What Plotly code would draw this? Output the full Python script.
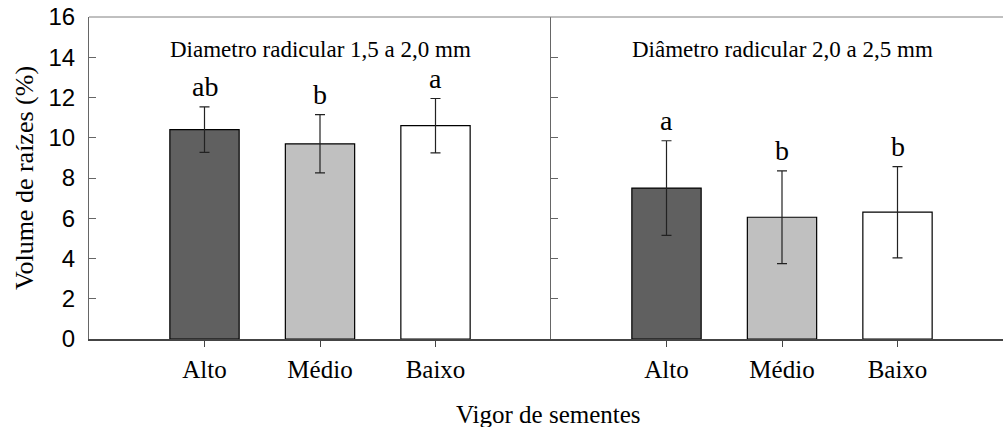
import plotly.graph_objects as go

categories = ["Alto", "Médio", "Baixo"]
vol_15_20 = [10.4, 9.7, 10.6]
err_15_20 = [1.13, 1.45, 1.35]
letters_15_20 = ["ab", "b", "a"]
vol_20_25 = [7.5, 6.05, 6.3]
err_20_25 = [2.35, 2.3, 2.27]
letters_20_25 = ["a", "b", "b"]
bar_colors = ["#606060", "#c0c0c0", "#ffffff"]
panel_titles = ["Diametro radicular 1,5 a 2,0 mm", "Diâmetro radicular 2,0 a 2,5 mm"]
y_ticks = [0, 2, 4, 6, 8, 10, 12, 14, 16]

SERIF = "Liberation Serif"
SANS = "Liberation Sans"

fig = go.Figure()
panels = [(vol_15_20, err_15_20, letters_15_20, "x", "y"),
          (vol_20_25, err_20_25, letters_20_25, "x2", "y2")]
for (vals, errs, lets, xa, ya) in panels:
    fig.add_trace(go.Bar(
        x=categories, y=vals, width=0.6,
        marker=dict(color=bar_colors, line=dict(color="black", width=1.2)),
        error_y=dict(type="data", array=errs, visible=True, color="#222222",
                     thickness=1.2, width=5),
        xaxis=xa, yaxis=ya, showlegend=False, hoverinfo="skip"))

annotations = []
for (vals, errs, lets, xa, ya), title in zip(panels, panel_titles):
    for c, v, e, t in zip(categories, vals, errs, lets):
        annotations.append(dict(x=c, y=v + e, xref=xa, yref=ya, text=t,
                                showarrow=False, yanchor="bottom", yshift=3,
                                font=dict(family=SERIF, size=28, color="black")))
    annotations.append(dict(x=categories[1], y=14.4, xref=xa, yref=ya, text=title,
                            showarrow=False, yanchor="middle",
                            font=dict(family=SERIF, size=23, color="black")))

annotations.append(dict(x=548 / 1003, y=1 - 414 / 427, xref="paper", yref="paper",
                        xanchor="center", yanchor="middle", showarrow=False,
                        text="Vigor de sementes",
                        font=dict(family=SERIF, size=25, color="black")))
annotations.append(dict(x=24 / 1003, y=1 - 178 / 427, xref="paper", yref="paper",
                        xanchor="center", yanchor="middle", showarrow=False,
                        text="Volume de raízes (%)", textangle=-90,
                        font=dict(family=SERIF, size=26, color="black")))

W, H = 1003, 427
ml, mr, mt, mb = 89, 0, 17, 88
pw, ph = W - ml - mr, H - mt - mb
for a in annotations:
    if a.get("xref") == "paper":
        a["x"] = (a["x"] * W - ml) / pw
        a["y"] = (a["y"] * H - mb) / ph

split = 462 / pw
xcommon = dict(type="category", ticks="outside", ticklen=6, tickcolor="#444444",
               tickwidth=1, showline=True, linecolor="#444444", linewidth=2,
               tickfont=dict(family=SERIF, size=25, color="black"),
               ticklabelstandoff=1, showgrid=False, zeroline=False)
fig.update_layout(
    width=W, height=H,
    margin=dict(l=ml, r=mr, t=mt, b=mb, pad=0),
    paper_bgcolor="white", plot_bgcolor="white",
    bargap=0.4,
    xaxis=dict(domain=[0, split], range=[-1, 3], anchor="y", **xcommon),
    xaxis2=dict(domain=[split, 1], range=[-1, -1 + (pw - 462) / 115.5], anchor="y2", **xcommon),
    yaxis=dict(range=[0, 16], tickvals=y_ticks, ticks="inside", ticklen=7,
               tickcolor="#666666", showline=True, linecolor="#666666", linewidth=1,
               tickfont=dict(family=SANS, size=24, color="black"),
               ticklabelstandoff=8, showgrid=False, zeroline=False, anchor="x"),
    yaxis2=dict(range=[0, 16], tickvals=y_ticks, ticks="inside", ticklen=7,
                tickcolor="#666666", showline=True, linecolor="#666666", linewidth=1,
                showticklabels=False, showgrid=False, zeroline=False, anchor="x2"),
    annotations=annotations,
    shapes=[dict(type="line", xref="paper", yref="paper", x0=0, x1=1, y0=1, y1=1,
                 line=dict(color="#808080", width=1))],
)
fig.write_html("out.html")
